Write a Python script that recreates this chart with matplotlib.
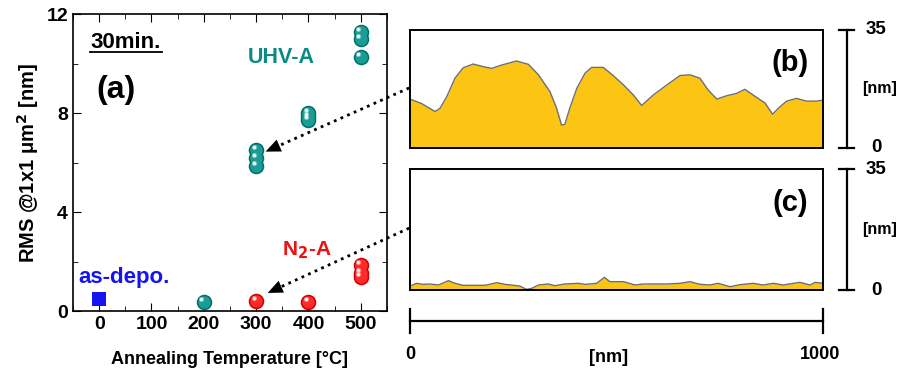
import matplotlib
matplotlib.use("Agg")
import numpy as np
import matplotlib.pyplot as plt
from matplotlib import transforms
from matplotlib.lines import Line2D
from matplotlib.patches import Polygon

plt.rcParams['font.family'] = ['Liberation Sans', 'DejaVu Sans']
plt.rcParams['font.weight'] = 'bold'

# --- RMS data (a) ---
uhv_T = [200, 300, 300, 300, 400, 400, 400, 500, 500, 500]
uhv_rms = [0.35, 5.87, 6.18, 6.5, 7.7, 7.85, 8.0, 10.27, 11.0, 11.26]
n2_T = [300, 400, 500, 500, 500]
n2_rms = [0.40, 0.36, 1.39, 1.52, 1.86]
depo_T = [0]
depo_rms = [0.48]

# --- line profiles (b) UHV-A 300C, (c) N2-A 300C ---
prof_b_x = [0, 28, 61, 73, 89, 109, 129, 153, 178, 198, 222, 258, 287, 311, 339, 355,
            367, 375, 387, 404, 424, 440, 468, 490, 517, 541, 561, 589, 622, 654, 678,
            702, 722, 743, 767, 791, 811, 831, 860, 878, 892, 912, 936, 960, 985, 1000]
prof_b_h = [14.5, 13.2, 10.8, 11.8, 15.2, 20.7, 23.8, 24.9, 24.1, 23.6, 24.6, 25.8,
            24.8, 21.7, 16.7, 11.8, 6.8, 7.0, 11.8, 17.7, 22.2, 23.9, 23.9, 21.7, 18.7,
            15.7, 12.6, 15.7, 18.7, 21.5, 21.7, 20.7, 17.2, 14.5, 15.5, 16.2, 17.4,
            15.7, 13.3, 10.0, 11.8, 13.9, 14.7, 13.9, 13.9, 14.2]
prof_c_x = [0, 16, 32, 48, 69, 93, 109, 129, 182, 210, 230, 266, 282, 295, 311, 335,
            351, 375, 408, 424, 452, 471, 484, 517, 545, 565, 589, 622, 654, 678, 702,
            726, 746, 775, 799, 831, 855, 880, 904, 944, 969, 981, 1000]
prof_c_h = [1.16, 1.93, 1.64, 1.74, 1.45, 2.70, 1.93, 1.35, 1.35, 2.12, 1.64, 1.16,
            0.19, 0.48, 1.45, 1.74, 1.25, 1.74, 1.93, 1.64, 1.93, 3.66, 2.41, 2.41,
            1.45, 1.74, 1.74, 1.74, 1.93, 2.41, 1.64, 1.45, 1.93, 0.96, 1.54, 1.93,
            1.45, 1.93, 1.45, 2.22, 1.45, 2.22, 1.93]

teal = '#0b8a84'
red = '#f01010'
blue = '#1414f0'
gold = '#fdc513'

fig = plt.figure(figsize=(9.01, 3.78), dpi=100)
ax = fig.add_axes([0.081, 0.1772, 0.3485, 0.7857])
axb = fig.add_axes([0.455, 0.6085, 0.4584, 0.3122])
axc = fig.add_axes([0.455, 0.2328, 0.4584, 0.3201])


def spheres(ax, x, y, color, dark):
    ax.scatter(x, y, s=125, color=dark, zorder=3, clip_on=False, linewidths=0)
    ax.scatter(x, y, s=80, color=color, zorder=4, clip_on=False, linewidths=0)
    hl = transforms.offset_copy(ax.transData, fig=fig, x=-1.8, y=2.2, units='points')
    ax.scatter(x, y, s=14, color='white', alpha=0.45, zorder=5, transform=hl,
               clip_on=False, linewidths=0)
    ax.scatter(x, y, s=5, color='white', alpha=0.9, zorder=6, transform=hl,
               clip_on=False, linewidths=0)


spheres(ax, uhv_T, uhv_rms, '#1b9c95', '#00706a')
spheres(ax, n2_T, n2_rms, '#ff2a2a', '#d00000')
ax.scatter(depo_T, depo_rms, marker='s', s=105, color=blue, zorder=3, linewidths=0)

ax.set_xlim(-50, 550)
ax.set_ylim(0, 12)
ax.set_xticks([0, 100, 200, 300, 400, 500])
ax.set_xticks(range(-50, 551, 50), minor=True)
ax.set_yticks([0, 4, 8, 12])
ax.set_yticks([2, 6, 10], minor=True)
ax.tick_params(which='both', direction='in', top=True, right=True, labelsize=14)
ax.tick_params(which='major', length=6)
ax.tick_params(which='minor', length=3.5)
for s in ax.spines.values():
    s.set_linewidth(1.2)
ax.set_xlabel('Annealing Temperature [°C]', fontsize=13, fontweight='bold', labelpad=13)
ax.set_ylabel('RMS @1x1 μm$^\\mathbf{2}$ [nm]', fontsize=14.5, fontweight='bold', labelpad=4)

ax.text(-17, 10.83, '30min.', fontsize=16, fontweight='bold', va='center')
ax.plot([-17, 121], [10.47, 10.47], color='black', lw=1.3)
ax.text(-6, 8.95, '(a)', fontsize=23, fontweight='bold', va='center')
ax.text(283, 10.26, 'UHV-A', fontsize=15.5, fontweight='bold', color=teal, va='center')
ax.text(350, 2.45, 'N$_\\mathbf{2}$-A', fontsize=15, fontweight='bold', color=red, va='center')
ax.text(-40, 1.37, 'as-depo.', fontsize=16, fontweight='bold', color=blue, va='center')

for a, x, h, lab in [(axb, prof_b_x, prof_b_h, '(b)'), (axc, prof_c_x, prof_c_h, '(c)')]:
    a.fill_between(x, 0, h, color=gold, zorder=1, lw=0)
    a.plot(x, h, color='#6e6e6e', lw=1.0, zorder=2)
    a.set_xlim(0, 1000)
    a.set_ylim(0, 35)
    a.set_xticks([])
    a.set_yticks([])
    for s in a.spines.values():
        s.set_linewidth(1.4)
    a.text(0.965, 0.72, lab, transform=a.transAxes, fontsize=21, fontweight='bold',
           ha='right', va='center')
    # vertical scale bar
    a.plot([1058, 1058], [0, 35], color='black', lw=1.6, clip_on=False)
    a.plot([1040, 1076], [35, 35], color='black', lw=1.6, clip_on=False)
    a.plot([1040, 1076], [0, 0], color='black', lw=1.6, clip_on=False)
    a.text(1103, 35, '35', fontsize=13.5, fontweight='bold', va='center', ha='left')
    a.text(1118, 0, '0', fontsize=13.5, fontweight='bold', va='center', ha='left')
    a.text(1095, 17.5, '[nm]', fontsize=11.5, fontweight='bold', va='center', ha='left')

# horizontal scale bar
axc.plot([0, 1000], [-9, -9], color='black', lw=1.6, clip_on=False)
axc.plot([0, 0], [-12.5, -5.5], color='black', lw=1.6, clip_on=False)
axc.plot([1000, 1000], [-12.5, -5.5], color='black', lw=1.6, clip_on=False)
axc.text(0, -18.8, '0', fontsize=13, fontweight='bold', ha='center', va='center')
axc.text(993, -18.8, '1000', fontsize=13, fontweight='bold', ha='center', va='center')
axc.text(482, -19.5, '[nm]', fontsize=13, fontweight='bold', ha='center', va='center')

# dotted arrows from profiles to points (drawn in pixel space)
ident = transforms.IdentityTransform()
for a, start, end in [(axb, (-2, 17.8), (318, 6.44)), (axc, (-2, 17.9), (322, 0.73))]:
    p0 = a.transData.transform(start)
    p1 = ax.transData.transform(end)
    u = (p1 - p0) / np.hypot(*(p1 - p0))
    n = np.array([-u[1], u[0]])
    base = p1 - u * 15
    fig.add_artist(Line2D([p0[0], base[0]], [p0[1], base[1]], transform=ident,
                          color='black', lw=2.0, linestyle=(0, (1, 1.6))))
    fig.add_artist(Polygon([p1, base + n * 6.5, base - n * 6.5], closed=True,
                           transform=ident, color='black', lw=0))

plt.savefig('out.png', dpi=100)
